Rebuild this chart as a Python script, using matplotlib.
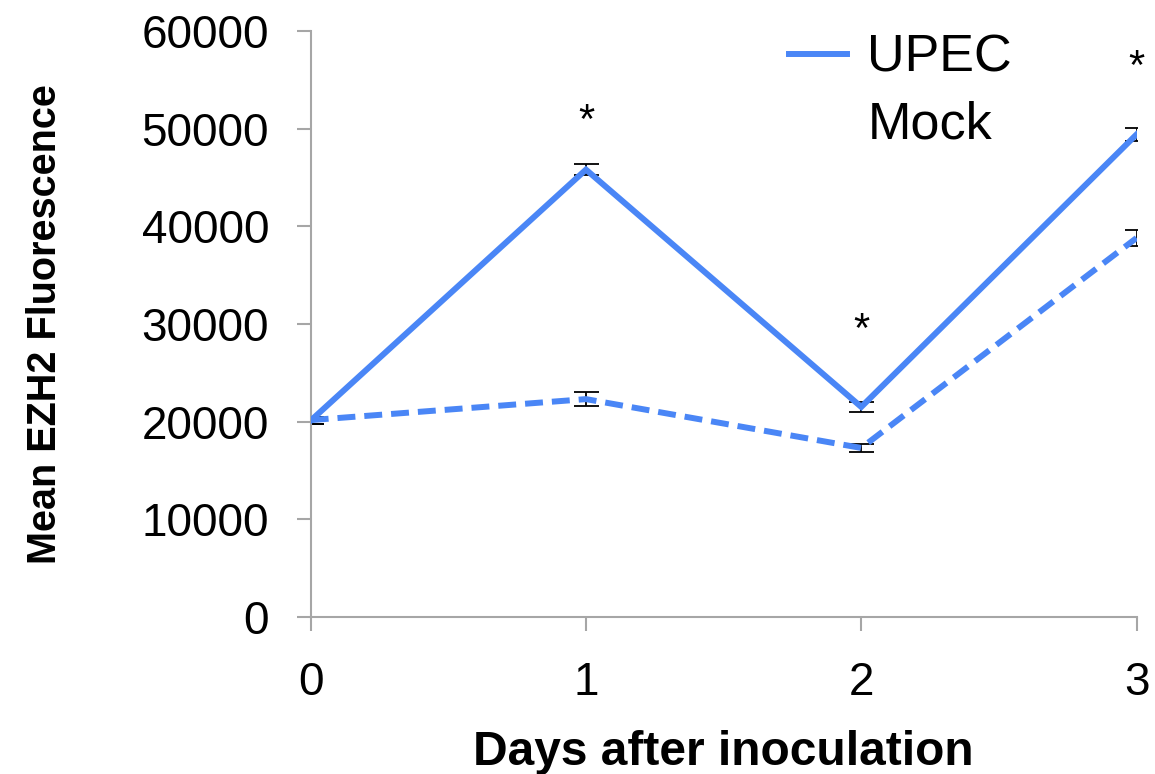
import matplotlib
matplotlib.use('Agg')
from matplotlib import pyplot as plt
from matplotlib.lines import Line2D

plt.rcParams['font.family'] = ['Liberation Sans', 'DejaVu Sans']

days = [0, 1, 2, 3]
upec = [20100, 45800, 21500, 49400]
upec_err = [300, 550, 500, 650]
mock = [20150, 22300, 17300, 38800]
mock_err = [350, 700, 450, 800]
star_days = [1, 2, 3]
star_y = [50700, 29300, 56200]

blue = '#4A86F6'
grey = '#A6A6A6'

fig = plt.figure(figsize=(11.55, 7.74), dpi=100)
ax = fig.add_axes([0.269, 0.203, 0.715, 0.757])

ax.errorbar(days, upec, yerr=upec_err, fmt='none', ecolor='black', elinewidth=1.3, capsize=9, capthick=1.3, zorder=2)
ax.errorbar(days, mock, yerr=mock_err, fmt='none', ecolor='black', elinewidth=1.3, capsize=9, capthick=1.3, zorder=2)
ax.plot(days, upec, color=blue, lw=4.3, solid_joinstyle='miter', zorder=3)
ax.plot(days, mock, color=blue, lw=4.3, dashes=(3, 1.5), zorder=3)

for d, y in zip(star_days, star_y):
    ax.text(d, y, '*', ha='center', va='center', fontsize=30)

ax.set_xlim(0, 3)
ax.set_ylim(0, 60000)
ax.set_xticks(days)
ax.set_yticks(range(0, 60001, 10000))
for s in ['top', 'right']:
    ax.spines[s].set_visible(False)
for s in ['left', 'bottom']:
    ax.spines[s].set_color(grey)
    ax.spines[s].set_linewidth(1.5)
ax.tick_params(axis='both', colors=grey, width=1.5, length=10, labelsize=33, labelcolor='black')
ax.tick_params(axis='y', pad=20)
ax.tick_params(axis='x', pad=22)

ax.set_xlabel('Days after inoculation', fontsize=34.5, fontweight='bold', labelpad=18)
ax.set_ylabel('Mean EZH2 Fluorescence', fontsize=28.5, fontweight='bold', labelpad=56)

handles = [Line2D([], [], color=blue, lw=4.3), Line2D([], [], color='none')]
ax.legend(handles, ['UPEC', 'Mock'], loc='upper right', bbox_to_anchor=(0.906, 1.075),
          frameon=False, fontsize=37.5, handlelength=1.1, handletextpad=0.4, labelspacing=0.33)

fig.savefig('out.png', dpi=100)
